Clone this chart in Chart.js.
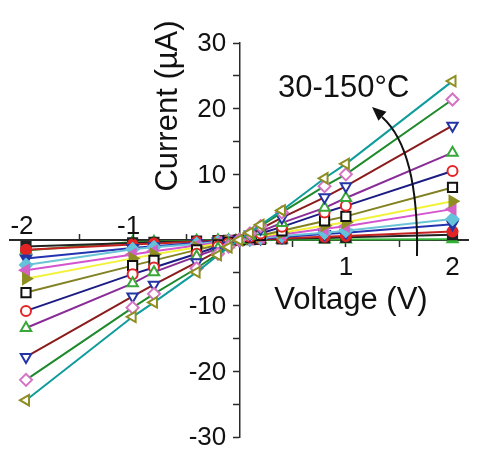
<!DOCTYPE html>
<html>
<head>
<meta charset="utf-8">
<script src="https://cdn.jsdelivr.net/npm/chart.js@4.4.0/dist/chart.umd.min.js"></script>
<style>
  html, body { margin: 0; padding: 0; background: #fff; }
  #wrap { width: 477px; height: 459px; }
</style>
</head>
<body>
<div id="wrap"><canvas id="c" width="477" height="459"></canvas></div>
<script>
// Voltage (V) sample points
const voltages = [-2, -1, -0.8, -0.4, -0.2, -0.1, 0, 0.1, 0.2, 0.4, 0.8, 1, 2];

// Current (µA) for each temperature curve (highest temperature first)
const curve1  = [-24.4, -11.7, -9.5, -4.9, -2.3, -1.1, 0, 1.1, 2.3, 4.5, 9.4, 11.6, 24.2];
const curve2  = [-21.3, -10.3, -8.2, -4.3, -2.1, -1.0, 0, 1.0, 2.1, 4.2, 8.2, 10.0, 21.4];
const curve3  = [-17.8, -8.6, -6.8, -3.4, -1.7, -0.85, 0, 0.85, 1.7, 3.4, 6.5, 8.2, 17.4];
const curve4  = [-13.4, -6.6, -4.9, -2.5, -1.3, -0.65, 0, 0.65, 1.3, 2.6, 4.9, 6.4, 13.3];
const curve5  = [-10.8, -5.2, -4.2, -2.1, -1.0, -0.5, 0, 0.5, 1.0, 2.0, 4.2, 5.2, 10.5];
const curve6  = [-8.0, -3.9, -3.1, -1.5, -0.75, -0.35, 0, 0.35, 0.7, 1.4, 2.9, 3.6, 8.0];
const curve7  = [-5.9, -2.8, -2.2, -1.1, -0.55, -0.27, 0, 0.27, 0.55, 1.1, 2.2, 2.7, 5.9];
const curve8  = [-4.6, -2.2, -1.7, -0.85, -0.42, -0.2, 0, 0.2, 0.42, 0.85, 1.7, 2.1, 4.7];
const curve9  = [-3.8, -1.4, -1.1, -0.6, -0.3, -0.15, 0, 0.15, 0.3, 0.6, 1.1, 1.4, 3.2];
const curve10 = [-2.8, -1.2, -0.95, -0.45, -0.23, -0.11, 0, 0.11, 0.23, 0.45, 0.9, 1.1, 2.4];
const curve11 = [-1.5, -0.7, -0.55, -0.27, -0.14, -0.07, 0, 0.07, 0.14, 0.27, 0.5, 0.6, 1.3];
const curve12 = [-1.0, -0.45, -0.35, -0.18, -0.09, -0.04, 0, 0.04, 0.09, 0.18, 0.32, 0.4, 0.8];
const curve13 = [-1.6, -0.3, -0.25, -0.1, -0.05, -0.02, 0, 0.01, 0.02, 0.04, 0.06, 0.08, 0.1];

const xTickLabels = ['-2', '-1', '1', '2'];
const yTickLabels = ['30', '20', '10', '-10', '-20', '-30'];
const annotationText = '30-150°C';
const xTitle = 'Voltage (V)';
const yTitle = 'Current (µA)';

const curves = [curve1, curve2, curve3, curve4, curve5, curve6, curve7, curve8, curve9, curve10, curve11, curve12, curve13];
const lineColors = ['#109c9c', '#1f8a2c', '#8c1c1c', '#8a2c98', '#1c1c84', '#828224', '#f2f23a', '#d454d0', '#6cc4d6', '#2434b0', '#c42222', '#222222', '#34b234'];
const markerColors = ['#8e8e22', '#d472c4', '#2434a4', '#38a838', '#e42424', '#111111', '#8e8e22', '#d462c6', '#64c2da', '#2434a4', '#e42424', '#222222', '#34b234'];
const markerStyles = ['triangle', 'rectRot', 'triangle', 'triangle', 'circle', 'rect', 'triangle', 'triangle', 'rectRot', 'triangle', 'circle', 'rect', 'triangle'];
const markerRot = [-90, 0, 180, 0, 0, 0, 90, -90, 0, 180, 0, 0, 0];
const markerFilled = [false, false, false, false, false, false, true, true, true, true, true, true, true];
const markerRadius = { triangle: 6, rectRot: 6, circle: 5, rect: 6.5 };

const datasets = curves.map((c, i) => ({
  label: 'curve' + (i + 1),
  data: voltages.map((v, j) => ({ x: v, y: c[j] })),
  borderColor: lineColors[i],
  borderWidth: 2,
  pointStyle: markerStyles[i],
  pointRotation: markerRot[i],
  pointRadius: markerRadius[markerStyles[i]],
  pointBorderColor: markerColors[i],
  pointBackgroundColor: markerFilled[i] ? markerColors[i] : '#ffffff',
  pointBorderWidth: 2,
  tension: 0,
  fill: false
}));

const AXIS_COLOR = '#2a2a2a';
const FONT = '"Liberation Sans", Arial, sans-serif';

const decorPlugin = {
  id: 'decor',
  afterDraw(chart) {
    const ctx = chart.ctx;
    const xs = chart.scales.x, ys = chart.scales.y;
    const x0 = xs.getPixelForValue(0);
    const y0 = ys.getPixelForValue(0);
    ctx.save();
    // upward tick marks for negative x values
    ctx.strokeStyle = AXIS_COLOR;
    ctx.lineWidth = 1.5;
    xs.ticks.forEach(t => {
      if (t.value < 0) {
        const px = Math.round(xs.getPixelForValue(t.value)) + 0.5;
        ctx.beginPath();
        ctx.moveTo(px, y0);
        ctx.lineTo(px, y0 - 6);
        ctx.stroke();
      }
    });
    // x tick labels
    ctx.fillStyle = '#111';
    ctx.font = '26px ' + FONT;
    ctx.textAlign = 'center';
    ctx.textBaseline = 'alphabetic';
    xTickLabels.forEach(lbl => {
      const v = parseFloat(lbl);
      const px = xs.getPixelForValue(v);
      if (v < 0) ctx.fillText(lbl, px - 4, y0 - 6);
      else ctx.fillText(lbl, px, y0 + 35);
    });
    // y tick labels
    ctx.textAlign = 'right';
    ctx.textBaseline = 'middle';
    yTickLabels.forEach(lbl => {
      const v = parseFloat(lbl);
      ctx.fillText(lbl, x0 - 13, ys.getPixelForValue(v) + 1);
    });
    // axis titles
    ctx.font = '31px ' + FONT;
    ctx.textAlign = 'center';
    ctx.textBaseline = 'alphabetic';
    ctx.fillText(xTitle, 351, 309);
    ctx.save();
    ctx.translate(177, 106);
    ctx.rotate(-Math.PI / 2);
    ctx.fillText(yTitle, 0, 0);
    ctx.restore();
    // annotation text
    ctx.textAlign = 'left';
    ctx.fillText(annotationText, 278, 97);
    // curved arrow
    ctx.strokeStyle = '#111';
    ctx.lineWidth = 2;
    ctx.beginPath();
    ctx.moveTo(417, 256);
    ctx.quadraticCurveTo(419, 150, 382, 117);
    ctx.stroke();
    // arrow head
    const tipX = 372, tipY = 107;
    const ang = Math.atan2(117 - 150, 382 - 419);
    ctx.fillStyle = '#111';
    ctx.beginPath();
    ctx.moveTo(tipX, tipY);
    ctx.lineTo(tipX - 14 * Math.cos(ang) + 6 * Math.sin(ang), tipY - 14 * Math.sin(ang) - 6 * Math.cos(ang));
    ctx.lineTo(tipX - 14 * Math.cos(ang) - 6 * Math.sin(ang), tipY - 14 * Math.sin(ang) + 6 * Math.cos(ang));
    ctx.closePath();
    ctx.fill();
    ctx.restore();
  }
};

function keepHalfSteps(scale) {
  scale.ticks = scale.ticks.filter(t => Math.abs(t.value * 2 - Math.round(t.value * 2)) < 1e-6);
}

new Chart(document.getElementById('c'), {
  type: 'line',
  data: { datasets },
  options: {
    responsive: false,
    animation: false,
    events: [],
    layout: { padding: { left: 10, right: 2, top: 43, bottom: 22 } },
    plugins: { legend: { display: false }, tooltip: { enabled: false } },
    scales: {
      x: {
        type: 'linear',
        position: { y: 0 },
        min: -2.15,
        max: 2.15,
        afterBuildTicks: keepHalfSteps,
        afterFit: s => { s.height = 0; },
        ticks: { display: false, stepSize: 0.5 },
        border: { display: true, color: AXIS_COLOR, width: 2 },
        grid: {
          drawOnChartArea: false,
          drawTicks: true,
          tickLength: 6,
          tickWidth: 1.5,
          tickColor: c => (c.tick && c.tick.value > 0) ? AXIS_COLOR : 'rgba(0,0,0,0)'
        }
      },
      y: {
        type: 'linear',
        position: { x: 0 },
        min: -30,
        max: 30,
        afterFit: s => { s.width = 0; },
        ticks: { display: false, stepSize: 5 },
        border: { display: true, color: AXIS_COLOR, width: 1.5 },
        grid: {
          drawOnChartArea: false,
          drawTicks: true,
          tickLength: 6,
          tickWidth: 1.5,
          tickColor: AXIS_COLOR
        }
      }
    }
  },
  plugins: [decorPlugin]
});
</script>
</body>
</html>
